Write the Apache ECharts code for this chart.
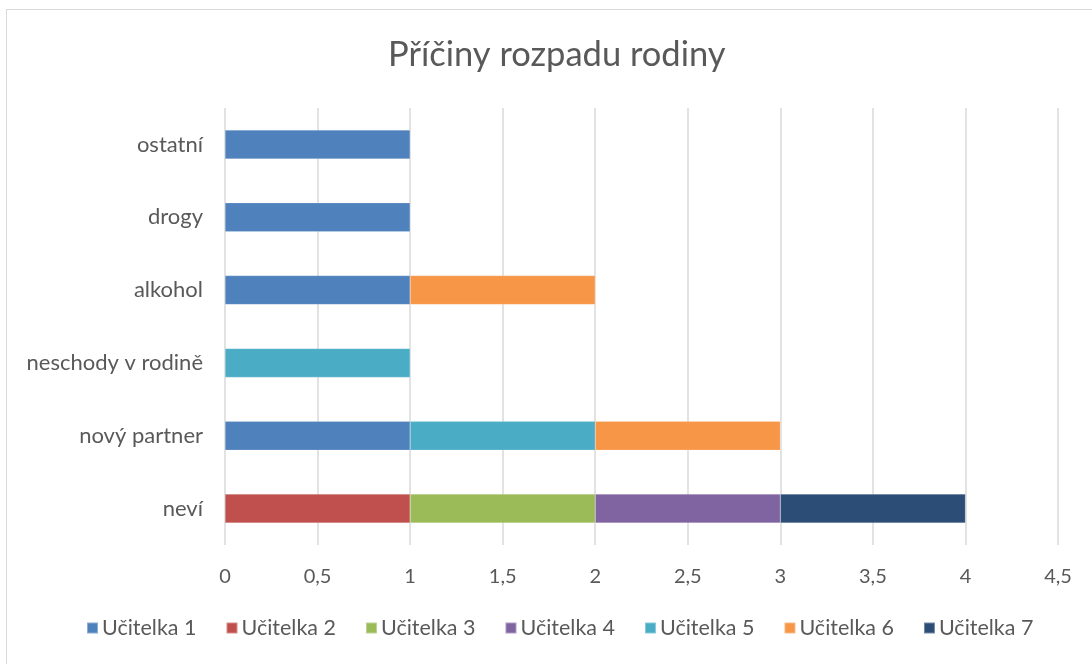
<!DOCTYPE html>
<html>
<head>
<meta charset="utf-8">
<script src="https://cdn.jsdelivr.net/npm/echarts@6/dist/echarts.min.js"></script>
<style>
  html, body { margin: 0; padding: 0; background: #fff; }
  #frame {
    position: absolute; left: 6px; top: 9px; width: 1100px; height: 670px;
    border: 1px solid #d9d9d9; box-sizing: border-box;
  }
  #chart { position: absolute; left: 0; top: 0; width: 1092px; height: 664px; }
</style>
</head>
<body>
<div id="frame"></div>
<div id="chart"></div>
<script>
// kategorie odspodu nahoru
const categories = ["neví", "nový partner", "neschody v rodině", "alkohol", "drogy", "ostatní"]
const teachers = ["Učitelka 1", "Učitelka 2", "Učitelka 3", "Učitelka 4", "Učitelka 5", "Učitelka 6", "Učitelka 7"]
const colors = ["#4F81BD", "#C0504D", "#9BBB59", "#8064A2", "#4BACC6", "#F79646", "#2C4D75"]

const ucitelka1 = [null, 1, null, 1, 1, 1]
const ucitelka2 = [1, null, null, null, null, null]
const ucitelka3 = [1, null, null, null, null, null]
const ucitelka4 = [1, null, null, null, null, null]
const ucitelka5 = [null, 1, 1, null, null, null]
const ucitelka6 = [null, 1, null, 1, null, null]
const ucitelka7 = [1, null, null, null, null, null]
const values = [ucitelka1, ucitelka2, ucitelka3, ucitelka4, ucitelka5, ucitelka6, ucitelka7]

const font = "Lato, 'Open Sans', sans-serif"
const chart = echarts.init(document.getElementById("chart"))

chart.setOption({
  animation: false,
  color: colors,
  title: {
    text: "Příčiny rozpadu rodiny",
    left: 383,
    top: 32,
    textStyle: { fontFamily: font, fontSize: 34.5, fontWeight: "normal", color: "#595959" }
  },
  legend: {
    data: teachers,
    bottom: 20,
    left: 81,
    itemWidth: 11,
    itemHeight: 11,
    itemGap: 29,
    icon: "rect",
    textStyle: { fontFamily: font, fontSize: 21.5, color: "#595959", padding: [0, 0, 0, -1] }
  },
  grid: { left: 225, right: 34, top: 108, bottom: 119 },
  xAxis: {
    type: "value",
    min: 0,
    max: 4.5,
    interval: 0.5,
    axisLine: { show: false },
    axisTick: { show: false },
    splitLine: { lineStyle: { color: "#d9d9d9", width: 1.5 } },
    axisLabel: {
      fontFamily: font, fontSize: 20, color: "#595959", margin: 22,
      formatter: v => String(v).replace(".", ",")
    }
  },
  yAxis: {
    type: "category",
    data: categories,
    axisLine: { show: false },
    axisTick: { show: false },
    axisLabel: { fontFamily: font, fontSize: 22, color: "#595959", margin: 22 }
  },
  series: teachers.map((name, i) => ({
    name: name,
    type: "bar",
    stack: "total",
    barWidth: 29,
    data: values[i],
    itemStyle: { borderColor: "rgba(255,255,255,0.35)", borderWidth: 0.5 }
  }))
})
</script>
</body>
</html>
